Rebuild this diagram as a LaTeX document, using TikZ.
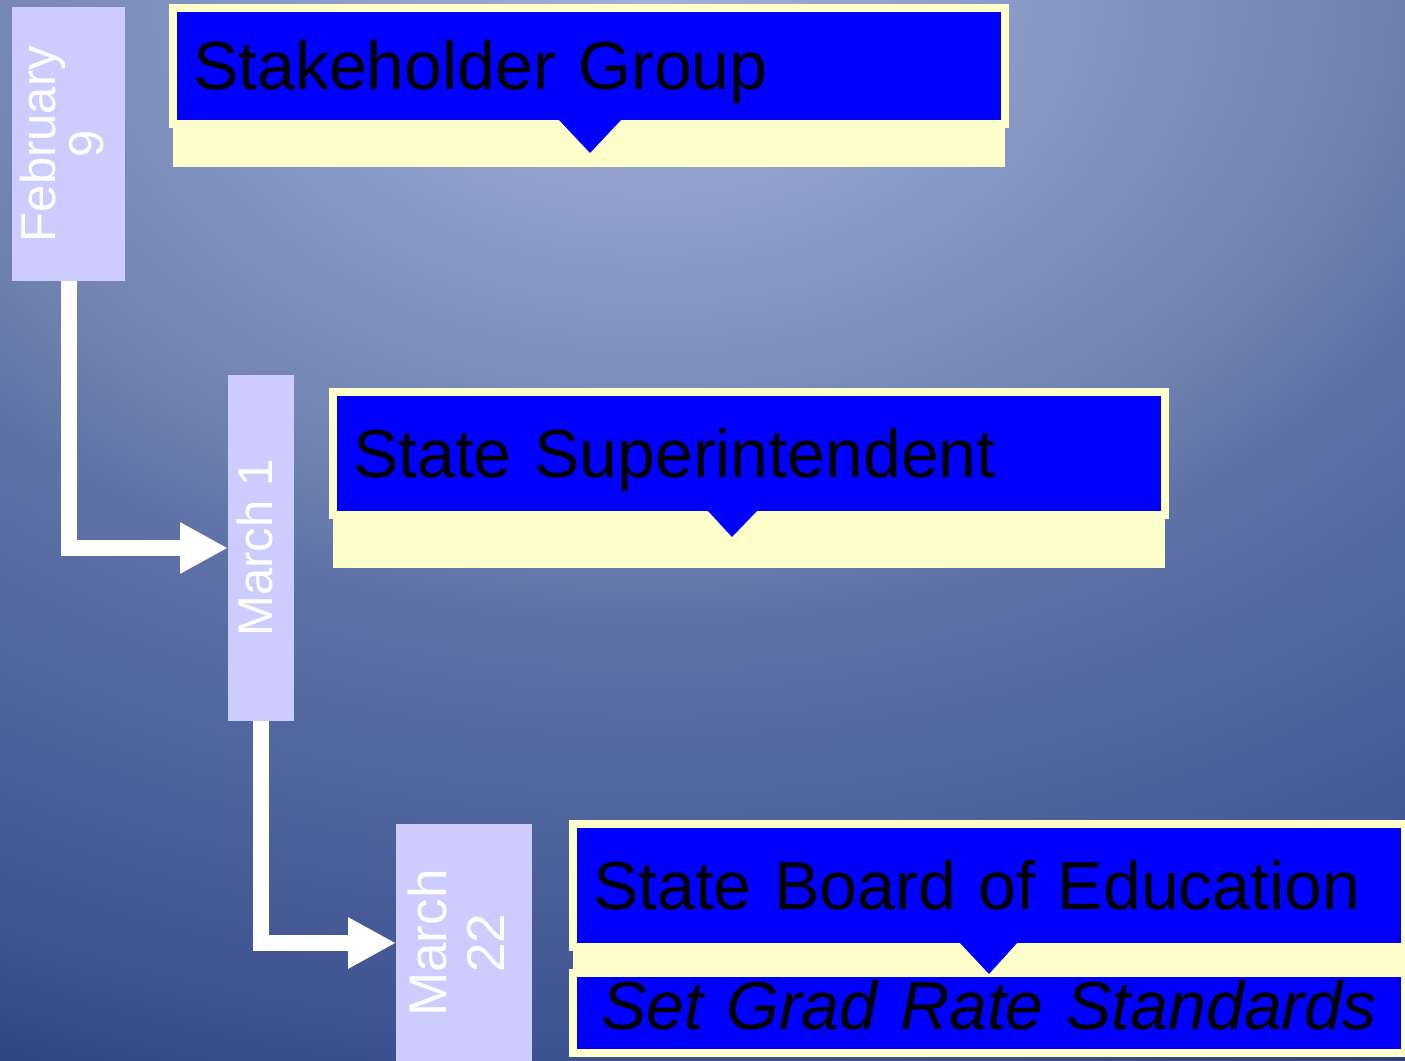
\documentclass[tikz,border=0pt]{standalone}
\usepackage{graphicx}
\usepackage{fontspec}
\setmainfont{Liberation Sans}
\usetikzlibrary{arrows.meta,calc}

\definecolor{datebg}{HTML}{CCCCFF}
\definecolor{boxblue}{HTML}{0000FF}
\definecolor{boxyellow}{HTML}{FFFFCC}
\definecolor{bgA}{HTML}{A4B0D6}
\definecolor{bgB}{HTML}{8C9CC8}
\definecolor{bgC}{HTML}{6E80AE}
\definecolor{bgD}{HTML}{5E72A8}
\definecolor{bgE}{HTML}{5468A0}
\definecolor{bgF}{HTML}{3D5290}
\definecolor{bgG}{HTML}{2C3F7E}
\pgfdeclareradialshading{slidebg}{\pgfpoint{0bp}{0bp}}{color(0bp)=(bgA); color(5bp)=(bgB); color(11bp)=(bgC); color(13bp)=(bgD); color(16bp)=(bgE); color(22bp)=(bgF); color(25bp)=(bgG); color(50bp)=(bgG)}

\newcommand{\datelabel}[1]{\rotatebox{90}{\begin{tabular}{@{}c@{}}#1\end{tabular}}}

\tikzset{
  datebox/.style={fill=datebg,text=white,inner sep=0,outer sep=0},
  titlebox/.style={fill=boxblue,draw=boxyellow,line width=8pt,anchor=north west,outer sep=0,
    inner xsep=20pt,text width=792pt,align=left,text height=47pt,text depth=0pt,
    font=\fontsize{68}{72}\selectfont},
  tailbar/.style={fill=boxyellow},
  pointer/.style={fill=boxblue},
  timeline/.style={draw=white,line width=16pt,-{Triangle[length=48pt,width=48pt]}}
}

\begin{document}
\begin{tikzpicture}[x=1pt,y=-1pt,inner sep=0]
\useasboundingbox (0,0) rectangle (1405,1060);
\begin{scope}
\clip (0,0) rectangle (1405,1060);
\shade[shading=slidebg] (650,0) ellipse (1700pt and 1200pt); %background
\end{scope}

%date boxes
\node[datebox,minimum width=113pt,minimum height=274pt,font=\fontsize{49}{45}\selectfont] (feb) at (68.5,144) {\datelabel{February\\9}};
\node[datebox,minimum width=66pt,minimum height=346pt,font=\fontsize{49}{45}\selectfont] (mar1) at (261,548) {\datelabel{March 1}};
\node[datebox,minimum width=136pt,minimum height=238pt,font=\fontsize{53}{58}\selectfont] (mar22) at (464,943) {\datelabel{March\\22}};

%timeline arrows
\draw[timeline] (feb.south) |- (mar1.west);
\draw[timeline] (mar1.south) |- (mar22.west);

%first callout
\node[titlebox,minimum height=116pt] (stake) at (173,8) {Stakeholder Group};
\fill[tailbar] (stake.south west) rectangle ($(stake.south east)+(0,43)$);
\fill[pointer] ($(stake.south)+(-30,-4)$) -- ($(stake.south)+(32,-4)$) -- ($(stake.south)+(1,29)$) -- cycle;

%second callout
\node[titlebox,minimum height=123pt] (super) at (333,392) {State Superintendent};
\fill[tailbar] (super.south west) rectangle ($(super.south east)+(0,53)$);
\fill[pointer] ($(super.south)+(-41,-4)$) -- ($(super.south)+(8,-4)$) -- ($(super.south)+(-17,22)$) -- cycle;

%third callout
\node[titlebox,minimum height=123pt] (board) at (573,824) {State Board of Education};
\fill[tailbar] (board.south west) rectangle ($(board.south east)+(0,28)$);
\node[titlebox,minimum height=80pt,align=center,text depth=14pt,font=\fontsize{68}{72}\selectfont\itshape] (grad) at (573,973) {Set Grad Rate Standards};
\fill[pointer] ($(board.south)+(-29,-4)$) -- ($(board.south)+(28,-4)$) -- ($(board.south)+(0,27)$) -- cycle;
\end{tikzpicture}
\end{document}
